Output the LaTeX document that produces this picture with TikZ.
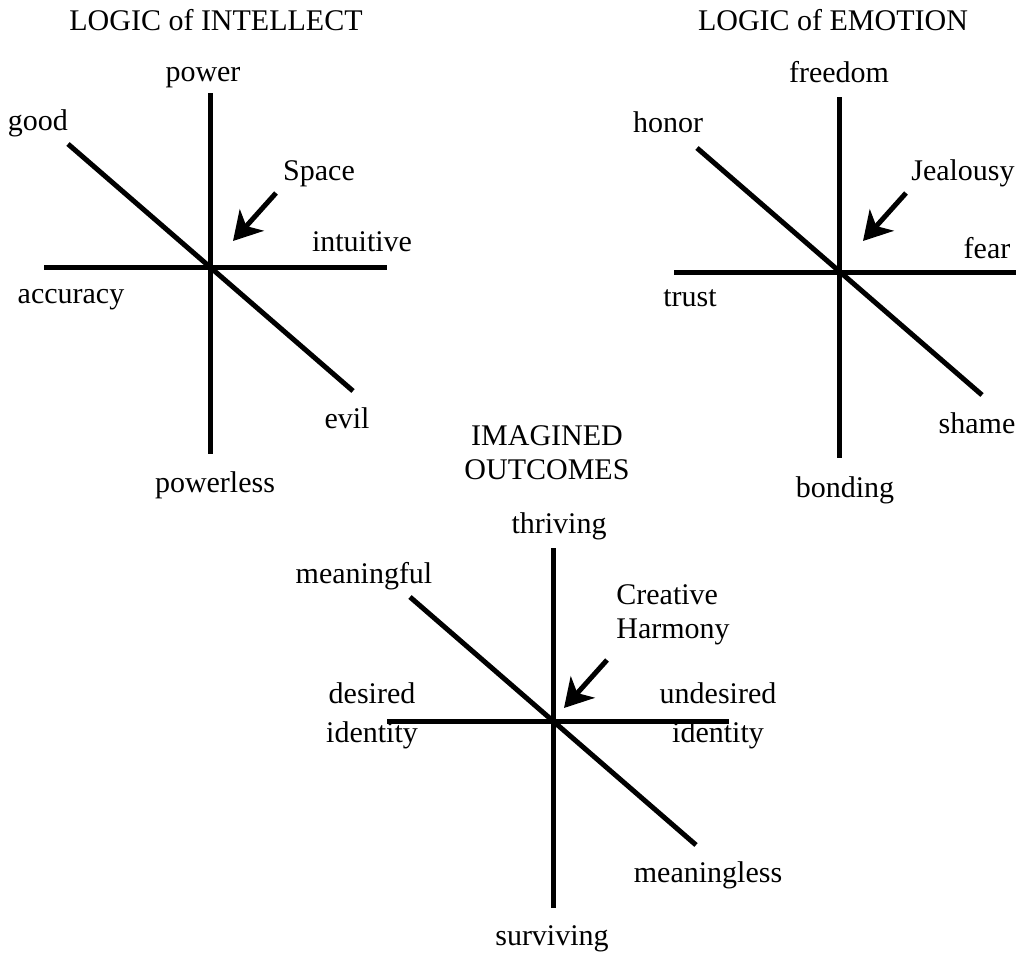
\documentclass[tikz,border=0pt]{standalone}
\usepackage{fontspec}
\setmainfont{Liberation Serif}
\usetikzlibrary{calc,arrows.meta}

\begin{document}
\begin{tikzpicture}[x=0.5pt,y=-0.5pt,
    axis/.style={line width=2.5pt},
    pointer/.style={line width=2.5pt,-{Stealth[length=14pt,width=16pt,inset=4pt]}},
    word/.style={anchor=base,inner sep=0pt,font=\fontsize{15}{17}\selectfont}]
  \useasboundingbox (0,0) rectangle (1019,953);

  % logic of intellect
  \coordinate (intellect) at (210,267);
  \draw[axis] ($ (intellect) + (0,-174) $) -- ($ (intellect) + (0,187) $);
  \draw[axis] ($ (intellect) + (-166,0) $) -- ($ (intellect) + (177,0) $);
  \draw[axis] ($ (intellect) + (-142,-123) $) -- ($ (intellect) + (143,124) $);
  \coordinate (space-from) at ($ (intellect) + (66,-74) $);
  \coordinate (space-to) at ($ (intellect) + (23,-26) $);
  \draw[pointer] (space-from) -- (space-to);
  \node[word] (t-intellect) at (216,31) {LOGIC of INTELLECT};
  \node[word] (power) at (203,81) {power};
  \node[word] (good) at (38,130) {good};
  \node[word] (space) at (319,180) {Space};
  \node[word] (intuitive) at (362,251) {intuitive};
  \node[word] (accuracy) at (71,303) {accuracy};
  \node[word] (evil) at (347,428) {evil};
  \node[word] (powerless) at (215,492) {powerless};

  % logic of emotion
  \coordinate (emotion) at (839,272);
  \draw[axis] ($ (emotion) + (0,-175) $) -- ($ (emotion) + (0,186) $);
  \draw[axis] ($ (emotion) + (-165,0) $) -- ($ (emotion) + (177,0) $);
  \draw[axis] ($ (emotion) + (-142,-124) $) -- ($ (emotion) + (143,123) $);
  \coordinate (jealousy-from) at ($ (emotion) + (67,-79) $);
  \coordinate (jealousy-to) at ($ (emotion) + (24,-31) $);
  \draw[pointer] (jealousy-from) -- (jealousy-to);
  \node[word] (t-emotion) at (833,31) {LOGIC of EMOTION};
  \node[word] (freedom) at (839,83) {freedom};
  \node[word] (honor) at (668,133) {honor};
  \node[word] (jealousy) at (963,180) {Jealousy};
  \node[word] (fear) at (987,258) {fear};
  \node[word] (trust) at (690,306) {trust};
  \node[word] (shame) at (977,433) {shame};
  \node[word] (bonding) at (845,497) {bonding};

  % imagined outcomes
  \coordinate (outcome) at (553,721);
  \draw[axis] ($ (outcome) + (0,-173) $) -- ($ (outcome) + (0,187) $);
  \draw[axis] ($ (outcome) + (-166,0) $) -- ($ (outcome) + (176,0) $);
  \draw[axis] ($ (outcome) + (-143,-124) $) -- ($ (outcome) + (143,124) $);
  \coordinate (harmony-from) at ($ (outcome) + (54,-61) $);
  \coordinate (harmony-to) at ($ (outcome) + (11,-13) $);
  \draw[pointer] (harmony-from) -- (harmony-to);
  \node[word,align=center] (t-outcome) at (547,479) {IMAGINED\\OUTCOMES};
  \node[word] (thriving) at (559,533) {thriving};
  \node[word] (meaningful) at (364,583) {meaningful};
  \node[word,align=left,anchor=base west] (harmony) at (616,638) {Creative\\Harmony};
  \node[word,align=center] (desired) at (372,742) {desired\\[2.5pt]identity};
  \node[word,align=center] (undesired) at (718,742) {undesired\\[2.5pt]identity};
  \node[word] (meaningless) at (708,882) {meaningless};
  \node[word] (surviving) at (552,945) {surviving};
\end{tikzpicture}
\end{document}
